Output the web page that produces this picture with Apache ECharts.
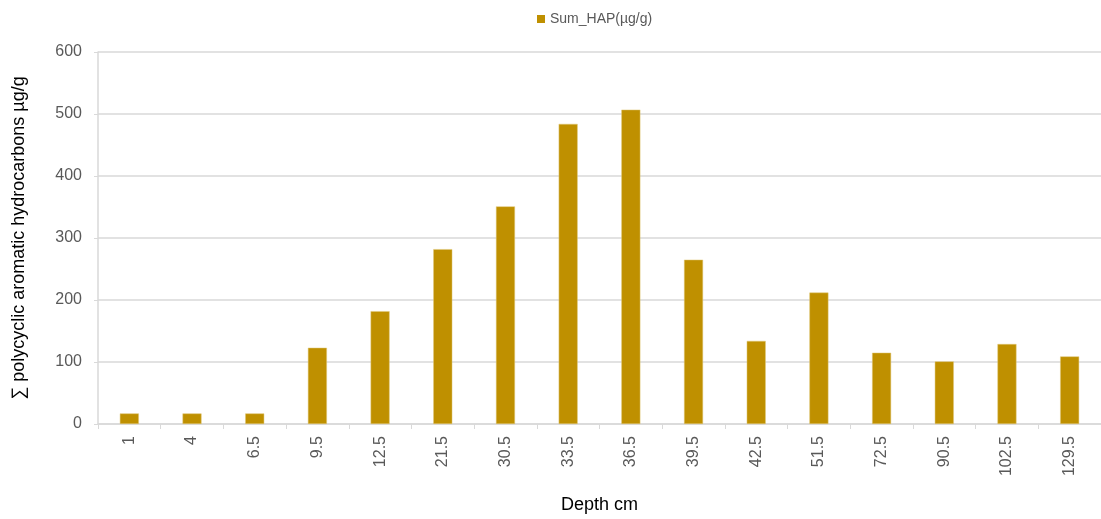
<!DOCTYPE html>
<html>
<head>
<meta charset="utf-8">
<script src="https://cdn.jsdelivr.net/npm/echarts@6/dist/echarts.min.js"></script>
<style>html,body{margin:0;padding:0;background:#fff;overflow:hidden}#c{width:1101px;height:519px}</style>
</head>
<body>
<div id="c"></div>
<script>
const categories = ['1','4','6.5','9.5','12.5','21.5','30.5','33.5','36.5','39.5','42.5','51.5','72.5','90.5','102.5','129.5'];
const sumHAP = [17,17,17,123,182,282,351,484,507,265,134,212,115,101,129,109];
const yTicks = {min:0, max:600, interval:100};

const chart = echarts.init(document.getElementById('c'));
chart.setOption({
  animation:false,
  legend:{
    top:7, left:532, itemWidth:8, itemHeight:8, itemGap:4,
    icon:'rect',
    itemStyle:{borderWidth:0},
    textStyle:{color:'#595959', fontSize:14, fontFamily:'Liberation Sans, Arial'},
    data:['Sum_HAP(µg/g)']
  },
  grid:{left:98, right:0, top:52, height:377, containLabel:false},
  xAxis:{
    type:'category', data:categories,
    name:'Depth cm', nameLocation:'middle', nameGap:72,
    nameTextStyle:{color:'#000', fontSize:18, fontFamily:'Liberation Sans, Arial'},
    axisLine:{lineStyle:{color:'#d9d9d9', width:1.5}},
    axisTick:{show:true, length:5, alignWithLabel:false, lineStyle:{color:'#d9d9d9'}},
    axisLabel:{rotate:90, color:'#595959', fontSize:16, margin:12, fontFamily:'Liberation Sans, Arial'}
  },
  yAxis:{
    type:'value', min:yTicks.min, max:yTicks.max, interval:yTicks.interval,
    name:'∑ polycyclic aromatic hydrocarbons µg/g', nameLocation:'middle', nameGap:70,
    nameTextStyle:{color:'#000', fontSize:18, fontFamily:'Liberation Sans, Arial'},
    axisLine:{show:true, lineStyle:{color:'#d9d9d9', width:1.5}},
    axisTick:{show:true, length:4, lineStyle:{color:'#d9d9d9'}},
    axisLabel:{color:'#595959', fontSize:16, margin:16, fontFamily:'Liberation Sans, Arial'},
    splitLine:{lineStyle:{color:'#d9d9d9', width:1.5}}
  },
  series:[{
    name:'Sum_HAP(µg/g)', type:'bar', data:sumHAP,
    barWidth:19,
    itemStyle:{color:'#BF9000', borderColor:'#e0c97a', borderWidth:0.5}
  }]
});
</script>
</body>
</html>
